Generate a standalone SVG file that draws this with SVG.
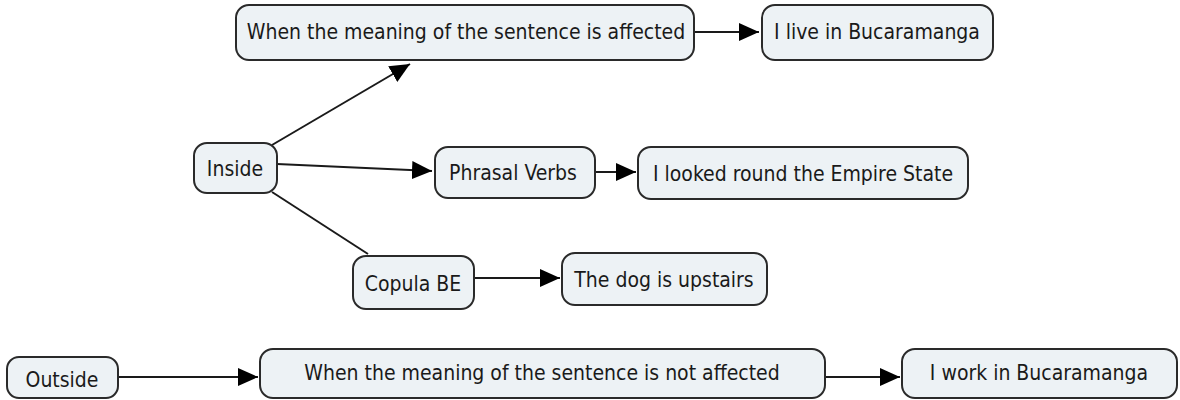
<svg xmlns="http://www.w3.org/2000/svg" width="1180" height="400" viewBox="0 0 1180 400">
  <style>
    .box { fill: #edf2f5; stroke: #2a2a2a; stroke-width: 2; }
    .lbl { font-family: 'DejaVu Sans Condensed', 'DejaVu Sans', sans-serif; font-stretch: condensed; font-size: 21px; fill: #1a1a1a; text-anchor: middle; }
    .edge { stroke: #1a1a1a; stroke-width: 2; fill: none; }
  </style>
  <defs>
    <marker id="arrow" markerUnits="userSpaceOnUse" markerWidth="22" markerHeight="20" refX="20" refY="10" orient="auto">
      <path d="M0,1 L20,10 L0,19 Z" fill="#000"/>
    </marker>
  </defs>
  <rect width="1180" height="400" fill="#ffffff"/>
  <g id="connectors">
    <line class="edge" x1="272" y1="145" x2="410" y2="64" marker-end="url(#arrow)"/>
    <line class="edge" x1="277" y1="164" x2="432" y2="171" marker-end="url(#arrow)"/>
    <line class="edge" x1="272" y1="192" x2="368" y2="254"/>
    <line class="edge" x1="694" y1="32" x2="759" y2="32" marker-end="url(#arrow)"/>
    <line class="edge" x1="595" y1="172" x2="636" y2="172" marker-end="url(#arrow)"/>
    <line class="edge" x1="474" y1="278" x2="560" y2="278" marker-end="url(#arrow)"/>
    <line class="edge" x1="118" y1="377" x2="258" y2="377" marker-end="url(#arrow)"/>
    <line class="edge" x1="825" y1="377" x2="900" y2="377" marker-end="url(#arrow)"/>
  </g>
  <g id="node-affected">
    <rect class="box" x="236" y="5" width="458" height="55" rx="13"/>
    <text class="lbl" x="466" y="39">When the meaning of the sentence is affected</text>
  </g>
  <g id="node-live">
    <rect class="box" x="762" y="5" width="231" height="55" rx="13"/>
    <text class="lbl" x="877" y="39">I live in Bucaramanga</text>
  </g>
  <g id="node-inside">
    <rect class="box" x="194" y="143" width="83" height="50" rx="13"/>
    <text class="lbl" x="235" y="176">Inside</text>
  </g>
  <g id="node-phrasal">
    <rect class="box" x="435" y="147" width="160" height="51" rx="13"/>
    <text class="lbl" x="513" y="180">Phrasal Verbs</text>
  </g>
  <g id="node-empire">
    <rect class="box" x="638" y="147" width="330" height="52" rx="13"/>
    <text class="lbl" x="803" y="181">I looked round the Empire State</text>
  </g>
  <g id="node-copula">
    <rect class="box" x="353" y="256" width="121" height="53" rx="13"/>
    <text class="lbl" x="413" y="291">Copula BE</text>
  </g>
  <g id="node-dog">
    <rect class="box" x="562" y="253" width="205" height="52" rx="13"/>
    <text class="lbl" x="664" y="287">The dog is upstairs</text>
  </g>
  <g id="node-outside">
    <rect class="box" x="7" y="357" width="111" height="41" rx="12"/>
    <text class="lbl" x="62" y="387">Outside</text>
  </g>
  <g id="node-not-affected">
    <rect class="box" x="260" y="349" width="565" height="49" rx="13"/>
    <text class="lbl" x="542" y="380">When the meaning of the sentence is not affected</text>
  </g>
  <g id="node-work">
    <rect class="box" x="902" y="349" width="275" height="49" rx="13"/>
    <text class="lbl" x="1039" y="380">I work in Bucaramanga</text>
  </g>
</svg>
